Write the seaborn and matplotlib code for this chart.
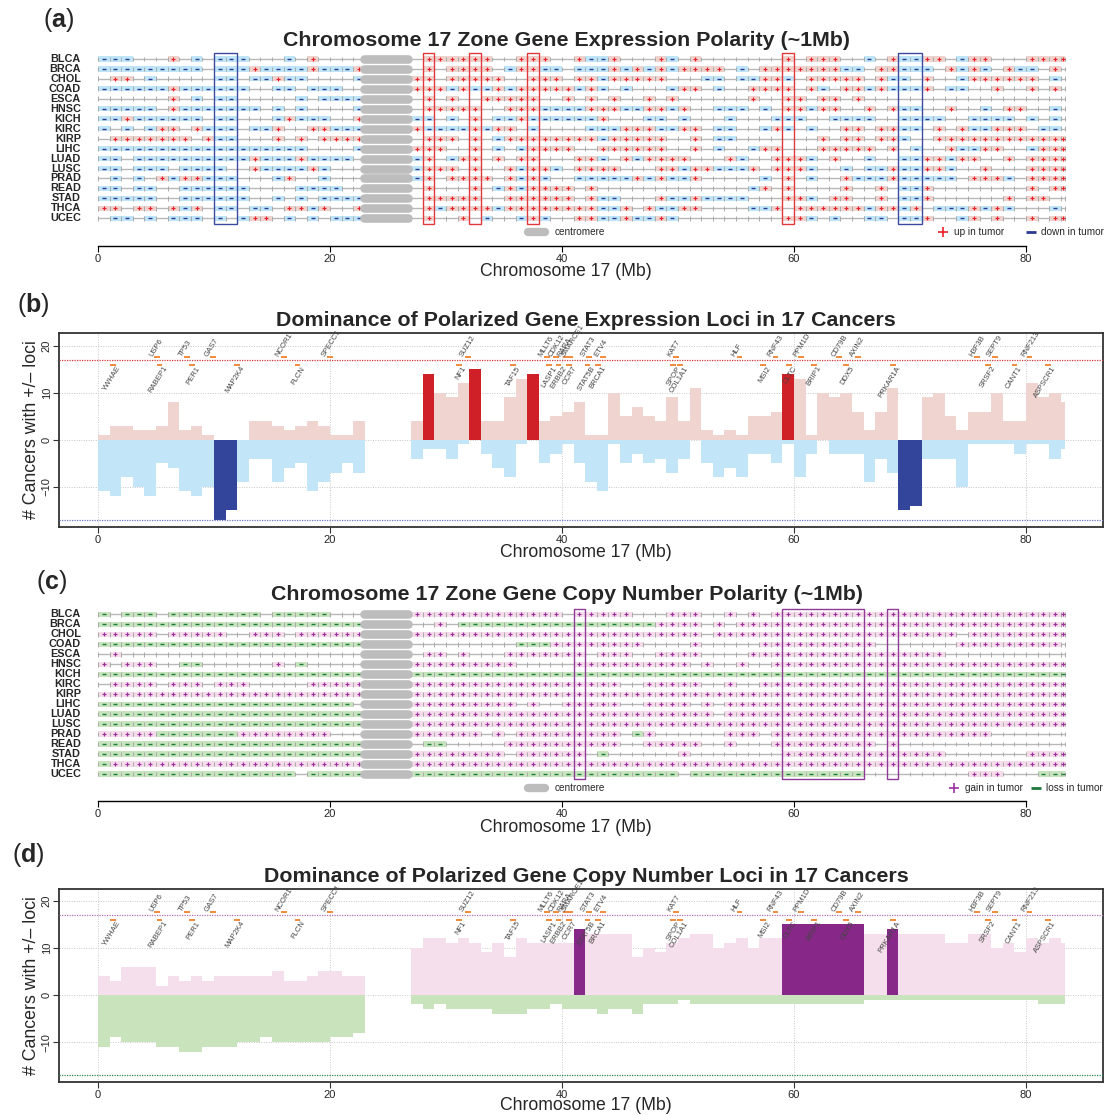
import numpy as np
import pandas as pd
import matplotlib
matplotlib.use("Agg")
import matplotlib.pyplot as plt
from matplotlib.patches import Rectangle
import seaborn as sns

sns.set_theme(style="ticks")
plt.rcParams["font.family"] = ["Liberation Sans", "DejaVu Sans"]
plt.rcParams["mathtext.fontset"] = "custom"
plt.rcParams["mathtext.rm"] = "Liberation Sans"
plt.rcParams["mathtext.bf"] = "Liberation Sans:bold"

# --- datos ---
cancers = ["BLCA", "BRCA", "CHOL", "COAD", "ESCA", "HNSC", "KICH", "KIRC", "KIRP",
           "LIHC", "LUAD", "LUSC", "PRAD", "READ", "STAD", "THCA", "UCEC"]
chrom_end = 83.4
centromere = (22.9, 26.7)
hot_min = 14

# una letra por zona de ~1Mb: + arriba / - abajo / . sin polaridad
expr_zones = [
    "---...+.-.---...-.+.... .... .++++++..+++ ..+--+...+-.+.......+.+++..-.+--++.-++...++++",
    "---------.---+----+---+ .... .+.++++.-++- -.---+-+-+-++++.-.+++++++--.++---.+-+-.+--.+.",
    ".++.-.....--.--+--....- .... ++.+++++..++ +.++-+++++...--.--++-.+++++.+--.+..-++++++.-.",
    "------+------..--.---.. .... +++-+--+-+++ ++-+-.-...-++.-..++++.+-.++-+---+.--..+..+.+.",
    "......+.-.--.....-.---- .... .+.+..+++++. .+.+.+..+.+......+..++.++.+..................",
    "-----.+-------.-.-....- .... .+++++..+++- ---+++--++-+..---.-.++-++..+.+--..+..-.++..-.",
    "--+------.--...-+---..+ .... --.-.+.--+-- ----+...--.-...-...---..----..----..----.-.-.",
    "-.-.-++.+---.--+..++--- .... +----+-++.-. ...---+++--++.--..-+-.-..++.++--.+.+--+++.--.",
    ".+++++++.+--...+.+.++++ .... .+++.+.-++++ ++++-+++++..+.--.......+.++.++-..++++++++++++",
    "------------------....- .... +++..+.-.-++ ++..++++++..+.-..-++...+++++.+.-..+--++..-+++",
    "--.----------+---+----. .... -+.-++.+.++. ..++-.+-++++...+-..+++-.+..-..--++-++..+.++++",
    "--.---.----..+----+-... .... -+++.+..+-++ -.++++...++-++---+.+++-..-.--+--++-..+...++++",
    ".-.-.+-++---...-+..-... .... -+.++++.+-+- ..-----+-+--+.....-.+.-..+---+-----.+++-.++++",
    "--.--..------....----.. .... .+...+.-+-++ ++.+.............-+.+....+..+.--+........+.++",
    "-----..------..-.-.---- .... .+++++..++++ ++.+--...+--+----...++-.++..+.--+......+.++..",
    "++.++.+-+.--.--.++-+..+ .... .+-++++-++++ ++++--+.+--++....--+.++++++-++-+.---+-+-...-.",
    ".--.-.---.-.-++.-.-.--- .... .+..+.-..-+- ..++--+--+-.........++-.-..--.--+..-+.+..+.++",
]

cn_zones = [
    "-.---.--------.-----... .... ++++++ ++++++ +.+++++...+++..+.+. +++++ +++++ +++++ +++++ +++++ +",
    "----- ----- ----- ----- --- .... ..+.-------- ---------++++.+. +++++ +++++ +++++ +++++ +++++ ++++",
    "+++++.+++++..+++.++++++ .... ++++++ ++++++ +++++ +++++ +++ . +++++ +++++ +++++ +++++ + . +++++ ++++",
    "----- ----- ----- ----- --- .... ......... --- ++++++++ .... + ..... ++++++++++ ....... +++++++++ .",
    ".+ ..... ..... ..... ..... . .... .++.+...++++ +++.+++..++++.... +++++ +++++ +++++ ++ ..... ..... .",
    "+.+++..--......+.-..... .... +++++++++... .. +++++ +++++ . + .. + .. +++++ +++++ +++++ +++++ +++++ +",
    "----- ----- ----- ----- --- .... ----- ----- -- ----- ----- ----- ----- ----- ----- ----- ----- -----",
    ".++++.+++.+++.....+++++ .... ++++++ ++++++ ++++++..+++++..+.. +++++ +++++ +++++ +++++ +++++ ++",
    "+++++ +++++ +++++ +++++ +++ .... ++++++ ++++++ +++++ +++++ +++++ +++++ +++++ +++++ +++++ +++++ +++++",
    "----- ----- ----- ----- -- . .... +++++++++.+. .+++++..++++.+. +++++ +++++ +++++ +++++ +++++ +++++",
    "----- ----- ----- ----- --- .... ++++++ ++++++ +++++ +++++ ++++ . +++++ +++++ +++++ +++++ +++++ +++++",
    "----- ----- ----- ----- --- .... ++++++ ++++++ +++++ +++++ +++++ +++++ +++++ +++++ +++++ +++++ +++++",
    "+++++-------++++++++... .... ++++++.+.+++ ++++++.-+......+++. +++++ +++++ +++++ ++++ .......",
    "----- ----- ----- ----- --- .... .--.....++++ ++++++..+++++..+...+++++++++.+ ..... ..... .....",
    "----- ----- ----- ----- --- .... ++++++++.+++ +++.-......+........ +++++ +++++ ++++ ....... ++++",
    "-++++ +++++ +++++ +++++ +++ .... ++++++ ++++++ +++++ +++++ +++++ +++++ +++++ +++++ +++++ +++++ +++++",
    "----- ----- ----- -- . ----- .... ----- ----- -- ----- ----- - . ----- ----- ----- ..... .... +++ ... ---",
]

# número de cánceres con zona +/- por Mb (paneles b y d)
expr_up = [1, 3, 3, 2, 2, 3, 8, 2, 3, 1, 0, 0, 0, 4, 4, 3, 2, 3, 4, 3,
           1, 1, 4, 0, 0, 0, 0, 4, 14, 10, 9, 12, 15, 4, 4, 9, 13, 14, 4, 5,
           6, 8, 1, 1, 10, 5, 7, 5, 4, 9, 4, 11, 2, 1, 2, 1, 5, 5, 6, 14,
           13, 1, 10, 9, 10, 6, 2, 6, 11, 0, 0, 9, 10, 5, 2, 6, 6, 10, 4, 4,
           12, 9, 10, 8]
expr_down = [11, 12, 8, 10, 12, 5, 6, 11, 12, 10, 17, 15, 9, 4, 4, 9, 6, 5, 11, 9,
             7, 5, 7, 0, 0, 0, 0, 4, 2, 2, 4, 1, 0, 3, 6, 8, 1, 0, 5, 3,
             1, 5, 9, 11, 1, 5, 3, 5, 4, 7, 4, 0, 5, 8, 6, 8, 3, 3, 5, 1,
             8, 3, 0, 3, 3, 3, 9, 4, 7, 15, 14, 4, 4, 4, 10, 1, 1, 1, 1, 3,
             1, 1, 4, 2]
cn_gain = [4, 3, 6, 6, 6, 2, 4, 3, 4, 3, 4, 4, 4, 4, 4, 5, 3, 3, 4, 5,
           5, 4, 4, 0, 0, 0, 0, 10, 12, 12, 11, 12, 11, 9, 11, 8, 12, 11, 11, 11,
           11, 14, 13, 13, 13, 13, 8, 10, 9, 11, 12, 13, 13, 10, 11, 12, 10, 12, 12, 15,
           15, 15, 15, 15, 15, 15, 13, 13, 14, 13, 13, 13, 13, 11, 11, 13, 13, 10, 11, 9,
           12, 11, 12, 11]
cn_loss = [11, 9, 10, 10, 10, 11, 11, 12, 12, 11, 11, 11, 10, 10, 9, 10, 10, 10, 10, 10,
           9, 9, 8, 0, 0, 0, 0, 2, 3, 2, 3, 3, 3, 3, 4, 4, 4, 3, 3, 2,
           3, 3, 3, 4, 3, 3, 4, 2, 2, 2, 1, 2, 2, 2, 2, 2, 2, 2, 2, 2,
           2, 2, 2, 2, 2, 2, 1, 1, 1, 1, 1, 1, 1, 1, 1, 1, 1, 1, 1, 1,
           1, 2, 2, 2]

genes_top = ["USP6", "TP53", "GAS7", "NCOR1", "SPECC1", "SUZ12", "MLLT6", "CDK12",
             "RARA", "SMARCE1", "STAT3", "ETV4", "KAT7", "HLF", "RNF43", "PPM1D",
             "CD79B", "AXIN2", "H3F3B", "SEPT9", "RNF213"]
genes_top_mb = [5.1, 7.7, 9.9, 16.0, 20.0, 31.9, 38.7, 39.5, 40.3, 40.7, 42.3, 43.5,
                49.8, 55.3, 58.4, 60.6, 63.9, 65.5, 75.8, 77.3, 80.3]
genes_low = ["YWHAE", "RABEP1", "PER1", "MAP2K4", "FLCN", "NF1", "TAF15", "LASP1",
             "ERBB2", "CCR7", "STAT5B", "BRCA1", "SPOP", "COL1A1", "MSI2", "CLTC",
             "BRIP1", "DDX5", "PRKAR1A", "SRSF2", "CANT1", "ASPSCR1"]
genes_low_mb = [1.3, 5.3, 8.1, 12.0, 17.2, 31.1, 35.8, 38.9, 39.7, 40.6, 42.2, 43.1,
                49.6, 50.2, 57.3, 59.6, 61.7, 64.5, 68.5, 76.7, 79.0, 81.9]

# --- geometría ---
W, H = 1108, 1115
n_bins = len(expr_up)
edges = np.arange(n_bins, dtype=float)
widths = np.minimum(1.0, chrom_end - edges)
XL = (-3.33, 86.6)

fig = plt.figure(figsize=(W / 100, H / 100), dpi=100)


def add_ax(x0, y0, x1, y1):
    return fig.add_axes([x0 / W, 1 - y1 / H, (x1 - x0) / W, (y1 - y0) / H])


def ftext(x, y, s, **kw):
    kw.setdefault("ha", "center")
    kw.setdefault("va", "center")
    fig.text(x / W, 1 - y / H, s, **kw)


def runs(mask):
    out, start = [], None
    for j, m in enumerate(mask):
        if m and start is None:
            start = j
        if not m and start is not None:
            out.append((start, j))
            start = None
    if start is not None:
        out.append((start, len(mask)))
    return out


def draw_zones(ax, rows, box_up, box_down, mark_up, mark_down, hot, legend_txt):
    recs = []
    for i, row in enumerate(rows):
        cells = row.replace(" ", "").ljust(n_bins, ".")[:n_bins]
        ax.plot([0, chrom_end], [i, i], color="#b8b8b8", lw=1.0, zorder=1)
        for j, c in enumerate(cells):
            if c in "+-":
                recs.append(dict(x=edges[j] + widths[j] / 2, y=i, sign=c,
                                 left=edges[j], width=widths[j]))
        ax.vlines(np.append(edges, chrom_end), i - 0.24, i + 0.24,
                  color="#a9a9a9", lw=0.7, zorder=3)
        ax.plot(centromere, [i, i], color="#bdbdbd", lw=6.2,
                solid_capstyle="round", zorder=5)
    df = pd.DataFrame(recs)
    for sign, col in (("+", box_up), ("-", box_down)):
        sub = df[df["sign"] == sign]
        ax.bar(sub["left"], 0.52, bottom=sub["y"] - 0.26, width=sub["width"],
               align="edge", color=col, lw=0, zorder=2)
    up = df[df["sign"] == "+"]
    dn = df[df["sign"] == "-"]
    sns.scatterplot(x=up["x"], y=up["y"], marker="+", color=mark_up,
                    s=10, linewidth=0.85, ax=ax, zorder=4)
    sns.scatterplot(x=dn["x"], y=dn["y"], marker="_", color=mark_down,
                    s=10, linewidth=1.0, ax=ax, zorder=4)
    for vals, col in hot:
        for s, e in runs(np.asarray(vals) >= hot_min):
            ax.add_patch(Rectangle((edges[s], -0.55), edges[e - 1] + widths[e - 1] - edges[s],
                                   len(rows) - 1 + 1.1, fill=False, ec=col, lw=1.0, zorder=6))
    for i, name in enumerate(cancers):
        ax.text(-1.47, i, name, ha="right", va="center", fontsize=7.8, fontweight="bold")
    # leyenda
    ly = 17.37
    ax.plot([37.06, 38.54], [ly, ly], color="#bdbdbd", lw=6, solid_capstyle="round", clip_on=False)
    ax.text(39.4, ly, "centromere", fontsize=7.2, va="center", ha="left")
    (xu, tu), (xd, td) = legend_txt
    ax.plot([xu], [ly], marker="+", ms=7, mew=1.2, color=mark_up, clip_on=False)
    ax.text(xu + 0.9, ly, tu, fontsize=7.2, va="center", ha="left")
    ax.plot([xd], [ly], marker="_", ms=7, mew=2.0, color=mark_down, clip_on=False)
    ax.text(xd + 0.8, ly, td, fontsize=7.2, va="center", ha="left")

    ax.set_xlim(XL)
    ax.set_yticks([])
    ax.set_xticks([0, 20, 40, 60, 80])
    ax.set_xlabel("")
    ax.set_ylabel("")
    for sp in ("left", "right", "top"):
        ax.spines[sp].set_visible(False)
    ax.spines["bottom"].set_bounds(0, 80)
    ax.spines["bottom"].set_color("black")
    ax.spines["bottom"].set_linewidth(1.0)
    ax.tick_params(axis="x", length=4, width=0.8, pad=1.5, labelsize=8, color="black")


def draw_dominance(ax, up, down, up_light, up_dark, dn_light, dn_dark, line_up, line_dn):
    up = np.asarray(up)
    down = np.asarray(down)
    for y in (-10, 0, 10, 20):
        ax.axhline(y, color="#c8c8c8", lw=0.7, ls=(0, (1, 1.5)), zorder=1)
    for x in (0, 20, 40, 60, 80):
        ax.axvline(x, color="#c8c8c8", lw=0.7, ls=(0, (1, 1.5)), zorder=1)
    ax.bar(edges, up, width=widths, align="edge", lw=0, zorder=2,
           color=np.where(up >= hot_min, up_dark, up_light))
    ax.bar(edges, -down, width=widths, align="edge", lw=0, zorder=2,
           color=np.where(down >= hot_min, dn_dark, dn_light))
    ax.axhline(17, color=line_up, lw=0.9, ls=(0, (1, 1)), zorder=3)
    ax.axhline(-17, color=line_dn, lw=0.9, ls=(0, (1, 1)), zorder=3)
    top = np.asarray(genes_top_mb)
    low = np.asarray(genes_low_mb)
    ax.hlines(np.full(len(top), 17.55), top - 0.25, top + 0.25,
              color="#f08a3c", lw=1.4, zorder=4)
    ax.hlines(np.full(len(low), 15.85), low - 0.25, low + 0.25,
              color="#f08a3c", lw=1.4, zorder=4)
    for g, x in zip(genes_top, genes_top_mb):
        ax.text(x - 0.55, 17.75, g, rotation=58, rotation_mode="anchor", ha="left",
                va="center", fontsize=5.5, color="#444444", zorder=5)
    for g, x in zip(genes_low, genes_low_mb):
        ax.text(x + 0.55, 15.5, g, rotation=58, rotation_mode="anchor", ha="right",
                va="center", fontsize=5.5, color="#444444", zorder=5)
    ax.set_xlim(XL)
    ax.set_xticks([0, 20, 40, 60, 80])
    ax.set_yticks([-10, 0, 10, 20])
    for sp in ax.spines.values():
        sp.set_color("#333333")
        sp.set_linewidth(1.3)
    ax.tick_params(length=4, width=0.8, pad=1.5, labelsize=8, color="#333333")
    ax.tick_params(axis="y", labelrotation=90)
    for lab in ax.get_yticklabels():
        lab.set_va("center")


# (a)
ax_a = add_ax(59.4, 50, 1102.6, 246)
draw_zones(ax_a, expr_zones, "#f0d2cd", "#bfe6f8", "#e8202a", "#2b3990",
           [(expr_up, "#e0383a"), (expr_down, "#3b4aa0")],
           [(72.85, "up in tumor"), (80.45, "down in tumor")])
ax_a.set_ylim(18.78, -0.9)

# (b)
ax_b = add_ax(59.4, 333, 1102.6, 527)
draw_dominance(ax_b, expr_up, expr_down, "#f0d4cf", "#cf2027", "#c2e6f7", "#33459a",
               "#d03a3a", "#6b78c8")
ax_b.set_ylim(-18.55, 22.7)

# (c)
ax_c = add_ax(59.4, 605, 1102.6, 801)
draw_zones(ax_c, cn_zones, "#f6dcea", "#c8e4be", "#9b2f9e", "#1c7a3a",
           [(cn_gain, "#8e3a96"), (cn_loss, "#1c7a3a")],
           [(73.8, "gain in tumor"), (80.9, "loss in tumor")])
ax_c.set_ylim(18.71, -0.93)

# (d)
ax_d = add_ax(59.4, 889, 1102.6, 1082)
draw_dominance(ax_d, cn_gain, cn_loss, "#f6dfec", "#872888", "#c9e3bd", "#1c7a3a",
               "#b070b0", "#2a8a4a")
ax_d.set_ylim(-18.45, 22.45)

# textos
ftext(567, 40, "Chromosome 17 Zone Gene Expression Polarity (~1Mb)", fontsize=15.4, fontweight="bold")
ftext(586, 321, "Dominance of Polarized Gene Expression Loci in 17 Cancers", fontsize=15.4, fontweight="bold")
ftext(567, 595, "Chromosome 17 Zone Gene Copy Number Polarity (~1Mb)", fontsize=15.4, fontweight="bold")
ftext(586, 877, "Dominance of Polarized Gene Copy Number Loci in 17 Cancers", fontsize=15.4, fontweight="bold")

ftext(566, 271, "Chromosome 17 (Mb)", fontsize=12.7)
ftext(586, 553, "Chromosome 17 (Mb)", fontsize=12.7)
ftext(566, 828, "Chromosome 17 (Mb)", fontsize=12.7)
ftext(586, 1106, "Chromosome 17 (Mb)", fontsize=12.7)

ftext(32, 430, "# Cancers with +/\u2013 loci", fontsize=12.8, rotation=90)
ftext(32, 986, "# Cancers with +/\u2013 loci", fontsize=12.8, rotation=90)

ftext(59, 20, r"($\mathbf{a}$)", fontsize=18)
ftext(33, 305, r"($\mathbf{b}$)", fontsize=18)
ftext(52, 582, r"($\mathbf{c}$)", fontsize=18)
ftext(28, 855, r"($\mathbf{d}$)", fontsize=18)

fig.savefig("out.png", dpi=100)
